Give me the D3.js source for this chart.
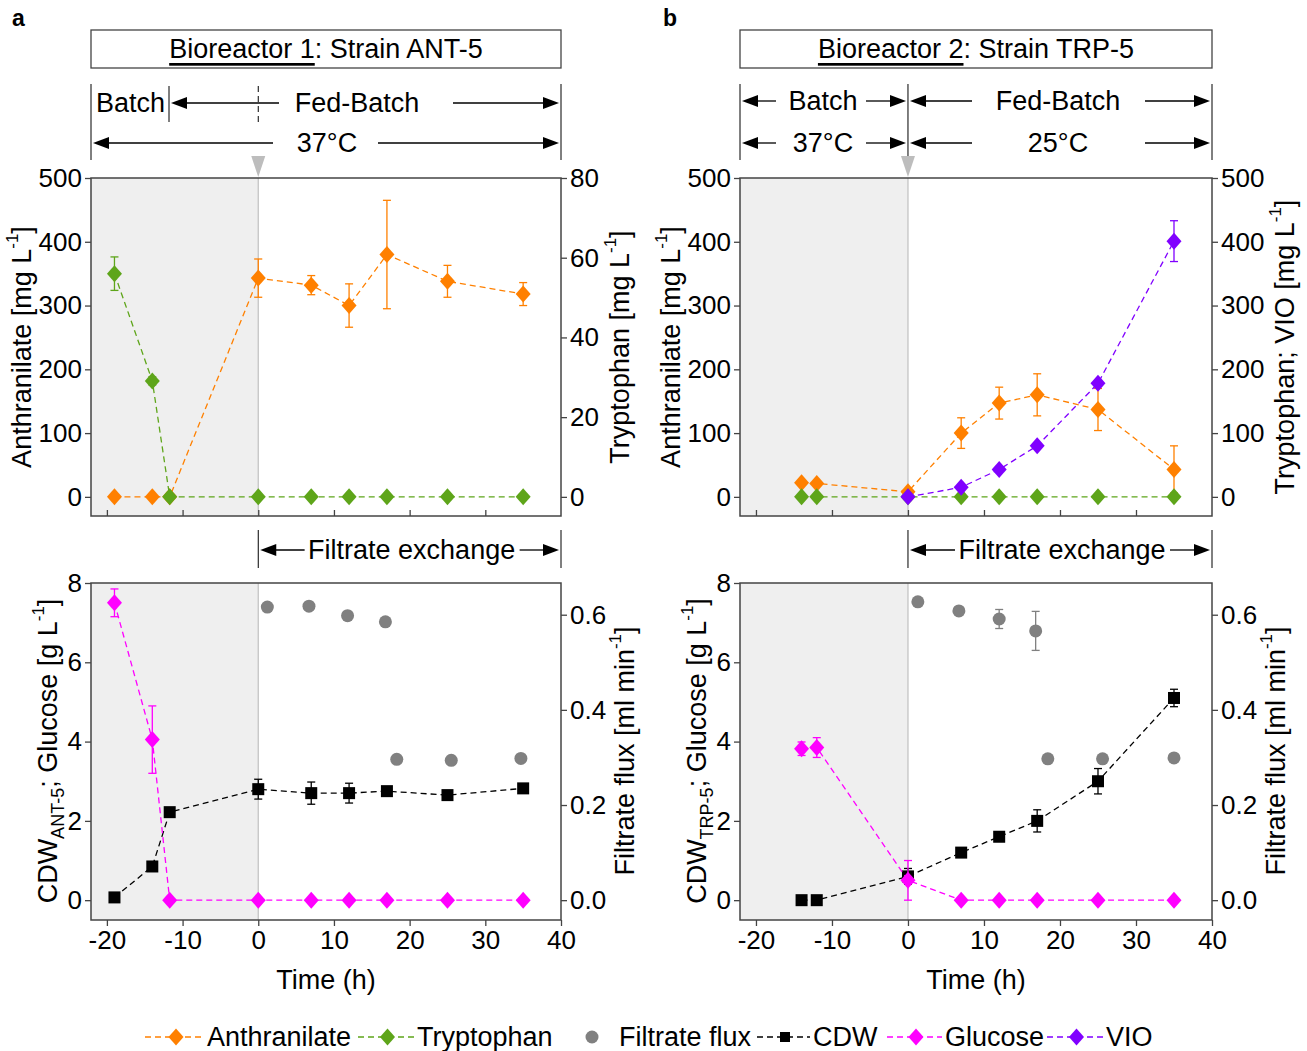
<!DOCTYPE html>
<html>
<head>
<meta charset="utf-8">
<script src="https://cdn.jsdelivr.net/npm/d3@7"></script>
<style>
  body { margin: 0; background: #fff; }
  svg { font-family: "Liberation Sans", Arial, sans-serif; }
</style>
</head>
<body>
<div id="chart"></div>
<script>
// data
var timeA = [-19, -14, -11.7, 0, 7, 12, 17, 25, 35];
var anthA = [0, 0, 0, 343, 332, 300, 380, 338, 318];
var anthAErr = [0, 0, 0, 30, 15, 34, 85, 25, 18];
var tryA = [56, 29.1, 0, 0, 0, 0, 0, 0, 0];
var tryAErr = [4.2, 1, 0, 0, 0, 0, 0, 0, 0];
var cdwA = [0.07, 0.85, 2.22, 2.8, 2.7, 2.7, 2.75, 2.65, 2.82];
var cdwAErr = [0, 0, 0.1, 0.25, 0.28, 0.25, 0.1, 0, 0];
var gluA = [7.5, 4.05, 0, 0, 0, 0, 0, 0, 0];
var gluAErr = [0.35, 0.85, 0, 0, 0, 0, 0, 0, 0];
var fluxTimeA = [1.2, 6.7, 11.8, 16.8, 18.3, 25.5, 34.7];
var fluxA = [0.616, 0.618, 0.598, 0.585, 0.296, 0.294, 0.298];
var fluxAErr = [0, 0, 0, 0, 0, 0, 0];

var timeB = [-14, -12, 0, 7, 12, 17, 25, 35];
var anthB = [22, 21, 8, 100, 147, 160, 137, 43];
var anthBErr = [0, 0, 0, 24, 25, 33, 33, 37];
var tryB = [0, 0, 0, 0, 0, 0, 0, 0];
var tryBErr = [0, 0, 0, 0, 0, 0, 0, 0];
var vioTimeB = [0, 7, 12, 17, 25, 35];
var vioB = [0, 15, 43, 80, 178, 401];
var vioBErr = [0, 0, 0, 0, 0, 32];
var cdwB = [0, 0, 0.6, 1.2, 1.6, 2.0, 3.0, 5.1];
var cdwBErr = [0, 0, 0.2, 0.05, 0.08, 0.28, 0.32, 0.22];
var gluB = [3.82, 3.85, 0.5, 0, 0, 0, 0, 0];
var gluBErr = [0.17, 0.25, 0.5, 0, 0, 0, 0, 0];
var fluxTimeB = [1.3, 6.7, 12, 16.8, 18.4, 25.6, 35];
var fluxB = [0.627, 0.608, 0.591, 0.566, 0.297, 0.297, 0.299];
var fluxBErr = [0, 0, 0.02, 0.041, 0, 0, 0];

var xTicks = [-20, -10, 0, 10, 20, 30, 40];
var topTicks = [0, 100, 200, 300, 400, 500];
var tryTicksA = [0, 20, 40, 60, 80];
var botTicks = [0, 2, 4, 6, 8];
var fluxTicks = [0, 0.2, 0.4, 0.6];

var legendNames = ["Anthranilate", "Tryptophan", "Filtrate flux", "CDW", "Glucose", "VIO"];

var col = {
  anth: "#ff8000", trp: "#5ea51a", flux: "#808080", cdw: "#000000",
  glu: "#ff00ff", vio: "#8000ff"
};

var svg = d3.select("#chart").append("svg")
  .attr("width", 1307).attr("height", 1051);

var fs = 27;     // labels
var tickFs = 26; // tick numbers

function zip(t, v, e) {
  return t.map(function(d, i) { return { t: d, v: v[i], e: e ? e[i] : 0 }; });
}

function diamond(g, x, y, c) {
  g.append("path")
    .attr("d", "M0,-8.5L7.5,0L0,8.5L-7.5,0Z")
    .attr("transform", "translate(" + x + "," + y + ")")
    .attr("fill", c);
}
function square(g, x, y, c) {
  g.append("rect").attr("x", x - 6).attr("y", y - 6)
    .attr("width", 12).attr("height", 12).attr("fill", c);
}
function circle(g, x, y, c) {
  g.append("circle").attr("cx", x).attr("cy", y).attr("r", 6.5).attr("fill", c);
}

function series(g, x, y, pts, c, shape, withLine) {
  if (withLine) {
    g.append("path")
      .datum(pts)
      .attr("d", d3.line().x(function(d) { return x(d.t); }).y(function(d) { return y(d.v); }))
      .attr("fill", "none").attr("stroke", c)
      .attr("stroke-width", 1.3).attr("stroke-dasharray", "6,4");
  }
  pts.forEach(function(d) {
    if (d.e > 0) {
      var px = x(d.t), y1 = y(d.v + d.e), y2 = y(d.v - d.e);
      g.append("line").attr("x1", px).attr("x2", px).attr("y1", y1).attr("y2", y2)
        .attr("stroke", c).attr("stroke-width", 1.3);
      [y1, y2].forEach(function(yy) {
        g.append("line").attr("x1", px - 4).attr("x2", px + 4).attr("y1", yy).attr("y2", yy)
          .attr("stroke", c).attr("stroke-width", 1.3);
      });
    }
  });
  pts.forEach(function(d) { shape(g, x(d.t), y(d.v), c); });
}

function arrow(g, xFrom, xTo, y) {
  var dir = xTo > xFrom ? 1 : -1;
  g.append("line").attr("x1", xFrom).attr("x2", xTo - dir * 12).attr("y1", y).attr("y2", y)
    .attr("stroke", "#000").attr("stroke-width", 1.3);
  g.append("path")
    .attr("d", "M" + xTo + "," + y + "L" + (xTo - dir * 16) + "," + (y - 6) + "L" + (xTo - dir * 16) + "," + (y + 6) + "Z")
    .attr("fill", "#000");
}

function vline(g, x, y1, y2, dash) {
  g.append("line").attr("x1", x).attr("x2", x).attr("y1", y1).attr("y2", y2)
    .attr("stroke", "#000").attr("stroke-width", 1)
    .attr("stroke-dasharray", dash || null);
}

function label(g, x, y, txt, anchor) {
  return g.append("text").attr("x", x).attr("y", y)
    .attr("text-anchor", anchor || "middle").attr("dominant-baseline", "central")
    .attr("font-size", fs).text(txt);
}

function rotLabel(g, x, y, parts) {
  var t = g.append("text")
    .attr("transform", "translate(" + x + "," + y + ") rotate(-90)")
    .attr("text-anchor", "middle").attr("dominant-baseline", "central")
    .attr("font-size", fs);
  parts.forEach(function(p) {
    var s = t.append("tspan").text(p[0]);
    if (p[1] === "sup") s.attr("baseline-shift", "super").attr("font-size", 17);
    if (p[1] === "sub") s.attr("baseline-shift", "sub").attr("font-size", 18);
  });
}

function styleAxis(a) {
  a.select(".domain").remove();
  a.selectAll(".tick line").attr("stroke", "#444").attr("stroke-width", 1.3);
  a.selectAll(".tick text").attr("font-size", tickFs).attr("fill", "#000")
    .attr("font-family", "Liberation Sans, Arial, sans-serif");
}

var plain = function(d) { return String(d); };

function plotFrame(g, x, y0, y1, left, right, leftTicks, rightTicks, rightFmt, xLabels) {
  var x0 = x.range()[0], x1 = x.range()[1];
  // shaded batch phase
  g.append("rect").attr("x", x0).attr("y", y0).attr("width", x(0) - x0).attr("height", y1 - y0)
    .attr("fill", "#efefef");
  g.append("line").attr("x1", x(0)).attr("x2", x(0)).attr("y1", y0).attr("y2", y1)
    .attr("stroke", "#c4c4c4").attr("stroke-width", 1.3);

  var la = g.append("g").attr("transform", "translate(" + x0 + ",0)")
    .call(d3.axisLeft(left).tickValues(leftTicks).tickSize(6).tickPadding(3).tickFormat(plain));
  styleAxis(la);
  var ra = g.append("g").attr("transform", "translate(" + x1 + ",0)")
    .call(d3.axisRight(right).tickValues(rightTicks).tickSize(6).tickPadding(3).tickFormat(rightFmt));
  styleAxis(ra);
  var ba;
  if (xLabels) {
    ba = g.append("g").attr("transform", "translate(0," + y1 + ")")
      .call(d3.axisBottom(x).tickValues(xTicks).tickSize(6).tickPadding(5).tickFormat(plain));
  } else {
    ba = g.append("g").attr("transform", "translate(0," + y1 + ")")
      .call(d3.axisBottom(x).tickValues(xTicks.slice(0, 6)).tickSize(-6).tickFormat(""));
  }
  styleAxis(ba);

  g.append("rect").attr("x", x0).attr("y", y0).attr("width", x1 - x0).attr("height", y1 - y0)
    .attr("fill", "none").attr("stroke", "#444").attr("stroke-width", 1.5);
}

function triangle(g, x) {
  g.append("path").attr("d", "M" + (x - 7) + ",156L" + (x + 7) + ",156L" + x + ",177Z")
    .attr("fill", "#bdbdbd");
}

function panel(p) {
  var g = svg.append("g");
  var x = d3.scaleLinear().domain([-22.1, 40]).range([p.x0, p.x1]);
  var yTop = d3.scaleLinear().domain([-30, 500]).range([516, 178]);
  var yTopR = d3.scaleLinear().domain([-30 * p.rightMax / 500, p.rightMax]).range([516, 178]);
  var yBot = d3.scaleLinear().domain([-0.5, 8]).range([920, 583]);
  var yBotR = d3.scaleLinear().domain([-0.5 / 12, 8 / 12]).range([920, 583]);

  // panel letter
  g.append("text").attr("x", p.letterX).attr("y", 26).attr("font-size", 23)
    .attr("font-weight", "bold").text(p.letter);

  // title box
  g.append("rect").attr("x", p.x0).attr("y", 30).attr("width", p.x1 - p.x0).attr("height", 38)
    .attr("fill", "none").attr("stroke", "#444").attr("stroke-width", 1.3);
  var tt = g.append("text").attr("x", (p.x0 + p.x1) / 2).attr("y", 49)
    .attr("text-anchor", "middle").attr("dominant-baseline", "central").attr("font-size", fs);
  tt.append("tspan").attr("text-decoration", "underline").style("text-decoration", "underline").text(p.reactor);
  tt.append("tspan").text(p.strain);

  p.header(g, x);
  triangle(g, x(0));

  // top plot
  plotFrame(g, x, 178, 516, yTop, yTopR, topTicks, p.rightTicks, d3.format("d"), false);
  p.top(g, x, yTop, yTopR);
  rotLabel(g, p.x0 - 69, 347, [["Anthranilate [mg L"], ["-1", "sup"], ["]"]]);
  rotLabel(g, p.x1 + p.topRightOff, 347, p.rightTitle);

  // filtrate exchange
  vline(g, x(0), 530, 568);
  vline(g, p.x1, 530, 568);
  var fx = (x(0) + p.x1) / 2 + 2;
  label(g, fx, 550, "Filtrate exchange");
  arrow(g, fx - 107, x(0) + 2, 550);
  arrow(g, fx + 108, p.x1 - 2, 550);

  // bottom plot
  plotFrame(g, x, 583, 920, yBot, yBotR, botTicks, fluxTicks, d3.format(".1f"), true);
  p.bottom(g, x, yBot, yBotR);
  rotLabel(g, p.x0 - 43, 751, [["CDW"], [p.sub, "sub"], ["; Glucose [g L"], ["-1", "sup"], ["]"]]);
  rotLabel(g, p.x1 + 64, 751, [["Filtrate flux [ml min"], ["-1", "sup"], ["]"]]);
  label(g, (p.x0 + p.x1) / 2, 980, "Time (h)");
}

panel({
  letter: "a", letterX: 12, x0: 91, x1: 561, rightMax: 80, rightTicks: tryTicksA,
  reactor: "Bioreactor 1", strain: ": Strain ANT-5", sub: "ANT-5", topRightOff: 59,
  rightTitle: [["Tryptophan [mg L"], ["-1", "sup"], ["]"]],
  header: function(g, x) {
    vline(g, 91, 84, 160);
    vline(g, 561, 84, 160);
    vline(g, 169, 86, 122);
    vline(g, x(0), 86, 122, "6,4");
    label(g, 96, 103, "Batch", "start");
    label(g, 357, 103, "Fed-Batch");
    arrow(g, 279, 171, 103);
    arrow(g, 453, 559, 103);
    label(g, 327, 143, "37°C");
    arrow(g, 273, 93, 143);
    arrow(g, 378, 559, 143);
  },
  top: function(g, x, y, yR) {
    series(g, x, y, zip(timeA, anthA, anthAErr), col.anth, diamond, true);
    series(g, x, yR, zip(timeA, tryA, tryAErr), col.trp, diamond, true);
  },
  bottom: function(g, x, y, yR) {
    series(g, x, yR, zip(fluxTimeA, fluxA, fluxAErr), col.flux, circle, false);
    series(g, x, y, zip(timeA, cdwA, cdwAErr), col.cdw, square, true);
    series(g, x, y, zip(timeA, gluA, gluAErr), col.glu, diamond, true);
  }
});

panel({
  letter: "b", letterX: 663, x0: 740, x1: 1212, rightMax: 500, rightTicks: topTicks,
  reactor: "Bioreactor 2", strain: ": Strain TRP-5", sub: "TRP-5", topRightOff: 73,
  rightTitle: [["Tryptophan; VIO [mg L"], ["-1", "sup"], ["]"]],
  header: function(g, x) {
    vline(g, 740, 84, 160);
    vline(g, 1212, 84, 160);
    vline(g, x(0), 84, 158);
    [[101, "Batch", "Fed-Batch"], [143, "37°C", "25°C"]].forEach(function(r) {
      label(g, 823, r[0], r[1]);
      label(g, 1058, r[0], r[2]);
      arrow(g, 776, 742, r[0]);
      arrow(g, 866, 906, r[0]);
      arrow(g, 972, 910, r[0]);
      arrow(g, 1145, 1210, r[0]);
    });
  },
  top: function(g, x, y, yR) {
    series(g, x, y, zip(timeB, anthB, anthBErr), col.anth, diamond, true);
    series(g, x, yR, zip(timeB, tryB, tryBErr), col.trp, diamond, true);
    series(g, x, yR, zip(vioTimeB, vioB, vioBErr), col.vio, diamond, true);
  },
  bottom: function(g, x, y, yR) {
    series(g, x, yR, zip(fluxTimeB, fluxB, fluxBErr), col.flux, circle, false);
    series(g, x, y, zip(timeB, cdwB, cdwBErr), col.cdw, square, true);
    series(g, x, y, zip(timeB, gluB, gluBErr), col.glu, diamond, true);
  }
});

// legend
var lg = svg.append("g");
var legendItems = [
  { x: 145, tx: 207, c: col.anth, shape: diamond, line: true },
  { x: 358, tx: 417, c: col.trp, shape: diamond, line: true },
  { x: 565, tx: 619, c: col.flux, shape: circle, line: false },
  { x: 757, tx: 813, c: col.cdw, shape: square, line: true },
  { x: 887, tx: 945, c: col.glu, shape: diamond, line: true },
  { x: 1047, tx: 1106, c: col.vio, shape: diamond, line: true }
];
legendItems.forEach(function(it, i) {
  var ly = 1037;
  if (it.line) {
    lg.append("line").attr("x1", it.x).attr("x2", it.tx - 3).attr("y1", ly).attr("y2", ly)
      .attr("stroke", it.c).attr("stroke-width", 1.3).attr("stroke-dasharray", "6,4");
  }
  var sm = it.shape === square ? function(g, x, y, c) {
    g.append("rect").attr("x", x - 5).attr("y", y - 5).attr("width", 10).attr("height", 10).attr("fill", c);
  } : it.shape;
  sm(lg, (it.x + it.tx) / 2, ly, it.c);
  label(lg, it.tx, ly, legendNames[i], "start");
});
</script>
</body>
</html>
